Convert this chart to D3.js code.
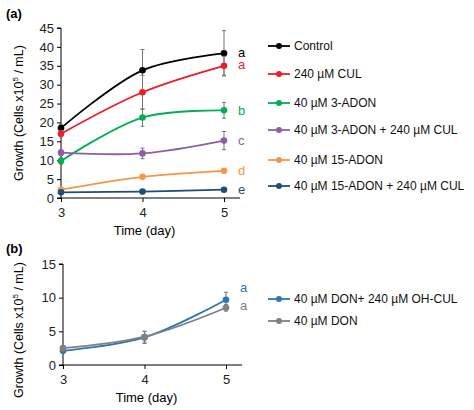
<!DOCTYPE html><html><head><meta charset="utf-8"><script src="https://cdn.jsdelivr.net/npm/d3@7"></script>
<style>body{margin:0;background:#fff}text{font-family:Arial,"Liberation Sans",sans-serif}</style></head><body><svg id="c" width="474" height="410"></svg>
<script>
const days=[3,4,5];
const namesA=["Control","240 µM CUL","40 µM 3-ADON","40 µM 3-ADON + 240 µM CUL","40 µM 15-ADON","40 µM 15-ADON + 240 µM CUL"];
const colorsA=["#000000","#ee1c24","#00b050","#8e5fa8","#f79646","#1f4e79"];
const valsA=[[18.5,33.8,38.3],[17,28,35],[9.8,21.3,23.2],[12,11.8,15.2],[2.2,5.6,7.2],[1.5,1.7,2.2]];
const errA=[[1,5.5,6],[0.8,4.5,2.5],[0.8,2.3,2.1],[0.7,1.4,2.4],[0.3,0.4,0.4],[0.2,0.2,0.2]];
const lettersA=["a","a","b","c","d","e"];
const namesB=["40 µM DON+ 240 µM OH-CUL","40 µM DON"];
const colorsB=["#2e75b6","#808080"];
const valsB=[[2.1,4.1,9.7],[2.5,4.2,8.5]];
const errB=[[0.3,0.9,1.1],[0.4,0.8,0.5]];
const lettersB=["a","a"];
const svg=d3.select("#c");
function panel(o){
 const x=d3.scaleLinear().domain([3,5]).range([o.x0,o.x1]);
 const y=d3.scaleLinear().domain([0,o.ymax]).range([o.y0,o.y1]);
 const g=svg.append("g");
 g.append("g").attr("transform",`translate(${o.x0},0)`).call(d3.axisLeft(y).tickValues(d3.range(0,o.ymax+1,o.step)).tickSize(4)).call(a=>{a.selectAll("text").attr("font-size",13).attr("fill","#222");a.select(".domain").attr("d",`M-4,${o.y0}H0V${o.y1}H-4`);});
 g.append("g").attr("transform",`translate(0,${o.y0})`).call(d3.axisBottom(x).tickValues(days).tickFormat(d3.format("d")).tickSize(4)).call(a=>{a.selectAll("text").attr("font-size",13).attr("fill","#222").attr("dy","0.9em");a.select(".domain").attr("d",`M${o.x0},0H${o.xend}`);a.selectAll("line").attr("y2",4);});
 g.append("text").attr("x",(o.x0+o.xend)/2-6).attr("y",o.y0+37).attr("text-anchor","middle").attr("font-size",13).text("Time (day)");
 const yl=g.append("text").attr("transform",`translate(23,${o.ylc}) rotate(-90)`).attr("text-anchor","middle").attr("font-size",12.5);
 yl.append("tspan").text("Growth (Cells x10");yl.append("tspan").attr("font-size",8).attr("dy",-5).text("5");yl.append("tspan").attr("dy",5).text(" / mL)");
 g.append("text").attr("x",6).attr("y",o.ly0).attr("font-weight","bold").attr("font-size",13).text(o.label);
 const line=d3.line().x((d,i)=>x(days[i])).y(d=>y(d)).curve(d3.curveCatmullRom.alpha(0.5));
 o.vals.forEach((v,s)=>{
  const c=o.colors[s];
  v.forEach((d,i)=>{const e=o.err[s][i];g.append("path").attr("d",`M${x(days[i])-2},${y(d+e)}H${x(days[i])+2}M${x(days[i])},${y(d+e)}V${y(d-e)}M${x(days[i])-2},${y(d-e)}H${x(days[i])+2}`).attr("stroke","#777").attr("fill","none");});
  g.append("path").attr("d",line(v)).attr("stroke",c).attr("stroke-width",1.8).attr("fill","none");
  v.forEach((d,i)=>g.append("circle").attr("cx",x(days[i])).attr("cy",y(d)).attr("r",3.3).attr("fill",c));
  g.append("text").attr("x",x(5)+14).attr("y",y(v[2])+o.loff[s]).attr("dy","0.35em").attr("font-size",13).attr("fill",c).text(o.letters[s]);
  const ly=o.ly[s];
  g.append("line").attr("x1",268).attr("x2",290).attr("y1",ly).attr("y2",ly).attr("stroke",c).attr("stroke-width",1.8);
  g.append("circle").attr("cx",279).attr("cy",ly).attr("r",3).attr("fill",c);
  g.append("text").attr("x",294).attr("y",ly).attr("dy","0.35em").attr("font-size",12).attr("fill","#111").text(o.names[s]);
 });
}
panel({x0:61,x1:224,xend:240,y0:198,y1:28,ymax:45,step:5,label:"(a)",ly0:18,ylc:113,vals:valsA,err:errA,colors:colorsA,names:namesA,letters:lettersA,loff:[-1,-1,0,0,0,0],ly:[46,74,103,130,160,186]});
panel({x0:63,x1:226,xend:242,y0:365,y1:264,ymax:15,step:5,label:"(b)",ly0:253,ylc:330,vals:valsB,err:errB,colors:colorsB,names:namesB,letters:lettersB,loff:[-12,-2],ly:[299,321]});
</script></body></html>
